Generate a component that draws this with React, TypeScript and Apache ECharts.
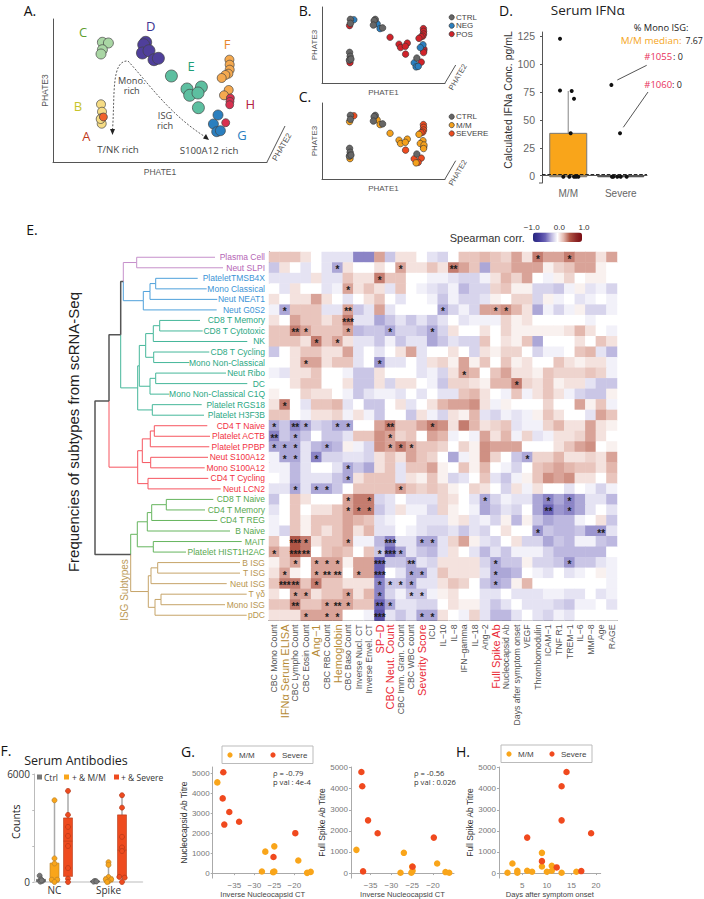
import React, { useEffect, useRef } from "react";
import * as echarts from "echarts";

// ---------- Panel A/B/C: PHATE embedding ----------
const clusterOrder = ["C", "D", "E", "F", "H", "G", "B", "A"];
const phateCluster = ["C","C","C","C","D","D","D","D","D","D","E","E","E","E","E","E","F","F","F","F","F","F","F","F","H","H","H","H","G","G","G","G","B","B","B","B","B","A"];
const phate1 = [49.4,55.4,49.4,48,92.7,90.7,89.4,96,101,105.4,118.4,134,148.4,136.7,145,145.4,176.4,176.7,176.7,175.4,172.4,168.7,175.7,171,177.4,177,176.7,172.7,165,160.4,163.7,167.4,48,49,48.7,48.7,47.7,50.4];
const phate3 = [119.7,119,112.3,108,119.7,117.3,109,111.3,102.3,103.7,86,73,75,66.7,69,54.3,102.3,97.3,92.3,88.3,87,84,72,66.7,64,60.7,57.3,39.3,47,38,30.3,31.3,57.7,50.3,44,38.3,43,45];
const statusB = ["CTRL","NEG","CTRL","POS","CTRL","CTRL","CTRL","NEG","NEG","CTRL","POS","POS","POS","POS","POS","POS","POS","POS","POS","POS","POS","POS","NEG","NEG","POS","POS","POS","POS","CTRL","NEG","NEG","NEG","CTRL","CTRL","CTRL","POS","CTRL","CTRL"];
const statusC = ["CTRL","SEVERE","CTRL","M/M","CTRL","CTRL","CTRL","M/M","M/M","CTRL","M/M","M/M","M/M","M/M","M/M","SEVERE","SEVERE","SEVERE","SEVERE","SEVERE","SEVERE","M/M","M/M","M/M","M/M","SEVERE","M/M","SEVERE","CTRL","SEVERE","M/M","SEVERE","CTRL","CTRL","CTRL","M/M","CTRL","CTRL"];

// ---------- Panel D ----------
const ifnCategories = ["M/M", "Severe"];
const ifnBoxes = [[-1, -1, 0, 38, 76], [-1, -1, -0.8, -0.5, 0]];
const ifnJitter = [0.343,0.343,0.565,0.61,0.546,0.406,0.521,0.61,0.648,0.692,1.321,1.486,1.333,1.358,1.434,1.499,1.613];
const ifnValues = [123,76.5,76,69,38,-1,-1,-1,-1,-1,81.5,38,-1,-1,-1,-1,-1];

// ---------- Panel E ----------
const rowLabels = ["Plasma Cell","Neut SLPI","PlateletTMSB4X","Mono Classical","Neut NEAT1","Neut G0S2","CD8 T Memory","CD8 T Cytotoxic","NK","CD8 T Cycling","Mono Non-Classical","Neut Ribo","DC","Mono Non-Classical C1Q","Platelet RGS18","Platelet H3F3B","CD4 T Naive","Platelet ACTB","Platelet PPBP","Neut S100A12","Mono S100A12","CD4 T Cycling","Neut LCN2","CD8 T Naive","CD4 T Memory","CD4 T REG","B Naive","MAIT","Platelet HIST1H2AC","B ISG","T ISG","Neut ISG","T γδ","Mono ISG","pDC"];
const rowGroups = [0,0,1,1,1,1,2,2,2,2,2,2,2,2,2,2,3,3,3,3,3,3,3,4,4,4,4,4,4,5,5,5,5,5,5];
const colLabels = ["CBC Mono Count","IFNα Serum ELISA","CBC Lympho Count","CBC Eosin Count","Ang−1","CBC RBC Count","Hemoglobin","CBC Baso Count","Inverse Nucl. CT","Inverse Envel. CT","SP−D","CBC Neut. Count","CBC Imm. Gran. Count","CBC WBC count","Severity Score","ICU","IL−10","IL−8","IFN−gamma","IL−18","Ang−2","Full Spike Ab","Nucleocapsid Ab","Days after symptom onset","VEGF","Thrombomodulin","ICAM−1","TNF R1","TREM−1","IL−6","MMP−8","Age","RAGE"];
const goldCols = ["IFNα Serum ELISA", "Ang−1", "Hemoglobin"];
const redCols = ["SP−D", "CBC Neut. Count", "Severity Score", "Full Spike Ab"];
// Spearman correlation, in tenths
const corr = [
[2,2,2,1,0,-1,-1,-1,-4,-4,3,-2,1,1,0,-1,-1.5,0,2,2,2.5,2,1.5,3,1,4,3,3,4,3,3,1,3],
[-2,1,0,-1,0,-1,-3,1,0,0,1,0,3,1,1,2,1,4,3,2,-3,2,2,3,3,3,.5,1.5,2,3,3,.5,0],
[-1,-1,-1,-1,1,-1,-1,2,1,1,4,2,2,0,0,-.5,-.5,-1,-1.5,-1.5,-.5,1,2.5,1.5,3,0,-.5,.5,1.5,0,.5,.5,0],
[0,-1,1,0,0,-1,-.5,3,1,2,1,-1,2,0,-.5,-1,-1.5,-.5,-2.5,-1.5,-1.5,1.5,2,.5,.5,-1.5,-1.5,-2,-.5,.5,-1,-.5,-1.5],
[1,0,1,1,3,1,0,-1,0,1,2,0,-1,0,0,-.5,-2,-.5,-1.5,-1.5,-1,.5,0,1.5,1.5,-1.5,.5,-.5,0,-1,-.5,0,-.5],
[-.5,-3,2,2,2,-1,-1,3,-2,-1,3,-1,0,0,0,0,-3,-1.5,-.5,-1.5,3,3,3.5,2.5,1,-3,-.5,-1.5,-.5,.5,-1.5,-1.5,-.5],
[1,0,3,2,2,1,2,4,-1,-1,-3,-2,-1,-2,-1,-2,-1,0,-1,-.5,-.5,-.5,1.5,.5,1,0,0,0,0,0,-.5,0,0],
[2,2,4,3,2,2,2,3,-2.5,-2,-2,-3,-1.5,-1.5,-2,-3,-1.5,1,0,0,1,0,1.5,.5,.5,.5,.5,.5,1,2.5,1,0,-.5],
[2,2,2,1,4,2,3,1,-1,-1,-2,-.5,-2,-1,-1,-3,-2,-1,-1.5,-1.5,2,0,1,.5,2,-3,0,0,0,1,0,2,1],
[-2,0,1,2,2,1,1,3,-1,0,-1,0,1,3,-1,0,0,1,0,-1.5,1,.5,1.5,1.5,0,-1.5,-.5,-.5,0,2,2.5,-1,-2.5],
[0,0,1,3,3,1,2,2,-1,0,-3.5,-1,-1,0,-1,1,1.5,.5,3,.5,2,0,2,.5,1,0,0,2,1,.5,1,1,-.5],
[-.5,-1,1,1,2,0,0,-.5,-2,-2,1,0,0,0,-1,-.5,-1.5,1,3,2.5,0,2,3,1,1,.5,2,1.5,1.5,1.5,2,1.5,-.5],
[0,0,1,2,2,0,0,1,-2,-2,1,-1.5,1,1,0,-.5,-2,1.5,1.5,1,.5,2.5,2.5,4,1.5,1,2,.5,1,1,-1,-2,-2],
[.5,0,0,1.5,1,1,0,-.5,-2,-1,-.5,-.5,-1,0,-1,0,-1,-1,2,2.5,1,0,-.5,2,-.5,1,2,1,-.5,-1.5,-2,-2,.5],
[1,4,0,-1,2,2,2.5,-1,0,-2,-2,0,1,-1,0,1,2.5,3,3,3.5,1,-.5,.5,0,0,0,1.5,0,0,3,.5,2,-.5],
[2,2,0,-.5,1,1,1.5,-.5,1,-.5,-2,0,0,-2,1,-.5,-1.5,1,.5,2.5,-1,-1.5,-.5,-1,-.5,.5,2,1,0,0,-1,3,2],
[-3,-2,-4,-3,-1.5,-2,-3,-3,0,0,3,4,2,2,3,4,3.5,1,4,2.5,1,1.5,2,-1,-.5,-.5,1.5,2.5,1,1,3,1,.5],
[-4,-2,-3,-2,0,-2,-2,-1,2,2,3.5,3,1.5,2,0,3,2.5,-.5,0,-.5,3,1,2.5,-.5,1.5,-1,-.5,1,1,1.5,3,1,0],
[-3,-3,-3,-1,-2.5,-3,-2.5,.5,-.5,-1.5,3.5,3,4,3,2,2,1.5,0,1.5,.5,3.5,3,3,3,0,0,0,1,2,3,3.5,0,.5],
[-.5,-3,-3,-1,-4,-1.5,-1.5,-1,-1,-1.5,1,2,1,3,2,1.5,0,-3,-.5,.5,3.5,1.5,0,-2,-3,1.5,1.5,2.5,1,1,1.5,1,3],
[-.5,-.5,-2.5,-1,0,0,-1,-3,-2,-3,1,2,-1,2,2,3,.5,0,2,.5,2.5,0,-.5,-1.5,0,2,2.5,3,2.5,2,2,1,2.5],
[0,-.5,-2.5,-1,-1,-1,-2,-3,1,2,2,2,-1,1,.5,2,.5,-1.5,-1,0,2,-1,-2,-.5,.5,2,3.5,3,3.5,1,1,0,2],
[-1,-1,-3,-1,-3,-3,-2,0,2,2,2,2,3,2,1.5,2,1.5,.5,0,1.5,1,0,-1.5,1,-.5,1,0,0,-1,0,-.5,-1.5,-.5],
[-2,0,2,1,0,0,0,3,4,4,-1.5,-1,0,-1,-1,-1,1.5,1,0,-1,-3,-1.5,-.5,-1,-1,-3,-4,-3,-4,-3,-1,-1,-2.5],
[-1,0,2,0,1,1,2,3,4,4,-2,-1,1,-.5,-.5,-1.5,1.5,.5,0,-.5,-3,-2,-1,-1.5,0,-3,-5,-3.5,-4,-3,-1,0,-1],
[-.5,0,2,.5,2,2,2,3,2.5,2,-1,-.5,0,0,-1,-1,-1,.5,1,-1,-.5,-1.5,.5,-2.5,.5,-2,-3,-2.5,-2.5,-.5,0,1,-2],
[-.5,-1.5,2,.5,2,1,2,3,1,2.5,-1,-1,0,-.5,-1,-1.5,-1.5,-1,-2,-1,-1.5,0,1,0,0,-3.5,-2,-2.5,-2.5,-2,-3.5,-3.5,-1],
[2,0,5,4,1,2,2,3,-.5,-.5,-2.5,-4,-1,-1,-3,-3,-1,1.5,3,.5,-1,-1.5,0,1,-1.5,-1.5,-3,-2,-2.5,-.5,-.5,-2,-2.5],
[3,2,5,4,0,2,2.5,2,0,2,-2,-5,-3,-1,-2,-2.5,-1,1,0,-1,-2.5,-1,-2,-.5,-.5,-.5,-1.5,-2.5,-2.5,-2.5,-2.5,-2.5,0],
[.5,2,3,0,3,3,3,.5,3,3,-5,-2,-2,-3,-1,-1.5,1,1,1,1,-1.5,-3,-2,-2,.5,-1.5,-1.5,-2,-3.5,-2,-2,-1,-.5],
[1,3,.5,0,3,3,3,0,3,3,-5,0,-1,-3,-3,-1,2,1,1,1,-1,-3,-3,-2.5,0,-.5,-1,0,-1,-.5,0,.5,-.5],
[2,4,4,2,4,2,2,1,1,1,-4,-2,-2,-3,-1,-1,1,2,1.5,0,-2,-3,-2.5,.5,2.5,0,0,0,0,0,0,0,-.5],
[1,0,3,3,1,2,2,3,1,2.5,-4,-1.5,-.5,-2,-2,-.5,.5,1,0,0,-1,-1,0,-1,-1,-1,-.5,-.5,-1,-1,0,-1,-.5],
[2,2,4,2,2,3,3,3,2,2,-5,-3,-1,-1,-1.5,-1.5,0,1,.5,.5,-1,-2,-1,0,-1,-1,-1,-1.5,-2,-.5,-.5,0,-1],
[1,1,1,3,3,3,3,0,0,-.5,-6,-1,-2,-1,-3,-3,1,0,-.5,1.5,-1,-2.5,-2.5,-1,0,-1,-1.5,-.5,-1,0,0,0,0],
];
// significance: [row, col, number of stars], 1-based
const stars = [[1,26,1],[1,29,1],[2,7,1],[2,13,1],[2,18,2],[3,11,1],[4,8,1],[6,2,1],[6,8,2],[6,17,1],[6,22,1],[6,23,1],[7,8,3],[8,3,2],[8,4,1],[8,8,1],[8,12,1],[8,16,1],[9,5,1],[9,7,1],[11,4,1],[11,11,1],[12,19,1],[13,24,1],[15,2,1],[17,1,1],[17,3,2],[17,4,1],[17,7,1],[17,8,1],[17,12,2],[17,16,1],[18,1,2],[18,3,1],[18,12,1],[19,1,1],[19,2,1],[19,3,1],[19,6,1],[19,12,1],[19,13,1],[19,14,1],[20,2,1],[20,3,1],[20,5,1],[20,25,1],[21,8,1],[22,8,1],[23,3,1],[23,5,1],[23,6,1],[23,13,1],[24,8,1],[24,10,1],[24,21,1],[24,27,1],[24,29,1],[25,8,1],[25,9,1],[25,10,1],[25,27,2],[25,29,1],[27,26,1],[27,32,2],[28,3,3],[28,4,1],[28,8,1],[28,12,3],[28,15,1],[28,16,1],[29,1,1],[29,3,3],[29,4,2],[29,11,1],[29,12,3],[29,13,1],[30,3,1],[30,5,1],[30,6,1],[30,7,1],[30,11,3],[30,14,2],[30,22,1],[30,29,1],[31,2,1],[31,5,1],[31,6,2],[31,7,2],[31,9,1],[31,11,3],[31,14,1],[31,15,1],[31,22,1],[32,2,3],[32,3,2],[32,5,1],[32,11,1],[32,12,1],[32,13,1],[32,14,1],[32,22,1],[33,3,1],[33,4,1],[33,8,1],[33,11,1],[33,14,1],[33,15,1],[34,3,2],[34,6,1],[34,7,2],[34,8,1],[34,11,2],[34,12,1],[35,4,1],[35,6,1],[35,7,1],[35,11,3],[35,15,1],[35,16,1]];
// dendrogram: leaf reach per row, and merges [height, colourTop, colourBottom, childA, childB, stemRow?]
const leafReach = [215,223,197.7,206.7,217.3,216.7,200,202.7,247.3,209.3,189.3,226,247.3,169.3,201.7,204,207.3,210,209.3,208,204.7,208.3,220.7,213.3,205,217.3,230,241.7,186,240,240,226.7,246.7,225,246.7];
const Pu = 0, Bl = 1, Te = 2, Re = 3, Gr = 4, Go = 5, Bk = 6;
const dendroColors = ["#C690CB", "#4FA1DB", "#45B79A", "#F6555F", "#66B55E", "#C6A469", "#555555"];
const dendrogram: any = [95, Bk, Bk,
  [109, Bk, Re,
    [120.7, Bk, Te,
      [123.3, Pu, Bl,
        [136.7, Pu, Pu, 0, 1],
        [143.3, Bl, Bl, [150, Bl, Bl, [155.7, Bl, Bl, 2, 3], 4], 5]],
      [137.7, Te, Te,
        [139.3, Te, Te,
          [145.7, Te, Te, [153.3, Te, Te, [159.7, Te, Te, 6, 7], 8], [153.7, Te, Te, 9, 10]],
          [150, Te, Te, [155.7, Te, Te, 11, 12], 13]],
        [152.3, Te, Te, 14, 15]]],
    [137.7, Re, Re,
      [142.3, Re, Re, [150.3, Re, Re, [154.3, Re, Re, 16, 17], 18], [150.7, Re, Re, 19, 20]],
      [148, Re, Re, 21, 22]]],
  [130.7, Gr, Go,
    [137.3, Gr, Gr,
      [147.3, Gr, Gr, [151.7, Gr, Gr, [166.3, Gr, Gr, 23, 24], 25], 26],
      [153.3, Gr, Gr, 27, 28]],
    [148.3, Go, Go,
      [151, Go, Go, [157.7, Go, Go, 29, 30], 31],
      [155, Go, Go, [161, Go, Go, 32, 33], 34]],
    28.23]];

// ---------- Panel F ----------
const abCategories = ["Ctrl NC","NC","Severe NC","gap","Ctrl Spike","Spike","Severe Spike","end"];
const abGroup = ["Ctrl","M/M","Severe","none","Ctrl","M/M","Severe"];
const abBoxes = [[0,20,60,150,350],[0,0,130,1050,4540],[0,310,2270,3560,5060],[0,0,0,0,0],[0,0,30,60,100],[0,0,130,280,1100],[0,310,1770,3730,4820]];
const abPointX = [0.4,0.5,0.6,0.45,0.55, 1.5,1.5,1.5,1.3,1.7,1.5, 2.5,2.5,2.5,2.5,2.5,2.5,2.5,2.5, 4.5,4.4,4.6, 5.5,5.5,5.5,5.3,5.7,5.5,5.4, 6.5,6.5,6.5,6.5,6.5,6.3,6.7,6.5];
const abPointY = [350,150,60,20,90, 4540,1310,1030,130,130,0, 5060,3730,3060,2560,2000,775,185,0, 60,20,30, 1100,950,280,150,150,30,0, 4820,4130,2510,1920,1720,280,240,0];
const abPointGroup = ["Ctrl","Ctrl","Ctrl","Ctrl","Ctrl","M/M","M/M","M/M","M/M","M/M","M/M","Severe","Severe","Severe","Severe","Severe","Severe","Severe","Severe","Ctrl","Ctrl","Ctrl","M/M","M/M","M/M","M/M","M/M","M/M","M/M","Severe","Severe","Severe","Severe","Severe","Severe","Severe","Severe"];

// ---------- Panels G, H ----------
const g1SevereX = [-37.75,-37.9,-36.25,-37.5,-33.8,-19.75,-25.2];
const g1SevereY = [5050,3740,3060,2430,2570,2000,810];
const g1MildX = [-39.25,-25,-27.25,-19,-28.1,-25,-25.3,-16.8,-15.9];
const g1MildY = [4540,1340,1075,630,80,80,50,15,65];
const g2SevereX = [-37.2,-37,-35.6,-33.3,-19.8,-24.9,-36.8];
const g2SevereY = [4795,4120,2500,1887,1682,300,80];
const g2MildX = [-38.4,-27,-19,-27.8,-24.9,-25.2,-17,-16.1,-25];
const g2MildY = [1100,960,456,15,110,15,47,15,310];
const hSevereX = [14,13,13,19,6,9,12,17];
const hSevereY = [4795,4120,2500,1887,1682,566,267,94];
const hMildX = [9,3,9,11,4,4,6,7,10,11,13,16,2];
const hMildY = [959,456,314,346,110,16,110,63,63,110,16,63,16];

const zip = (a: number[], b: number[]) => a.map((v, i) => [v, b[i]]);
const SANS = "Liberation Sans";
const HUM = "Open Sans";

function TX(text: string, x: number, y: number, size: number, fill: string, o: any = {}) {
  return {
    type: "text", x, y, rotation: o.rotation || 0, silent: true,
    style: { text, fontSize: size, fontFamily: o.font || SANS, fill, textAlign: o.align || "center", textVerticalAlign: "middle", ...(o.lineHeight ? { lineHeight: o.lineHeight } : {}) },
  };
}
const LN = (x1: number, y1: number, x2: number, y2: number, stroke = "#555", lineWidth = 1, extra: any = {}) => ({
  type: "line", silent: true, shape: { x1, y1, x2, y2 }, style: { stroke, lineWidth, ...extra },
});
const DOT = (cx: number, cy: number, r: number, fill: string, stroke = "none") => ({
  type: "circle", silent: true, shape: { cx, cy, r }, style: { fill, stroke, lineWidth: 0.7 },
});

// Whisker without caps, box and median line, placed through the axes' scales.
function boxRenderer(opts: (i: number) => any) {
  return (_p: any, api: any) => {
    const i = api.value(0);
    const o = opts(i);
    if (!o) return null;
    const x = api.coord([i, 0])[0];
    const [yMin, yQ1, yMed, yQ3, yMax] = [1, 2, 3, 4, 5].map((d) => api.coord([i, api.value(d)])[1]);
    const hw = o.width / 2;
    return {
      type: "group",
      children: [
        { type: "line", shape: { x1: x, y1: yMin, x2: x, y2: yMax }, style: { stroke: o.whisker, lineWidth: o.whiskerWidth } },
        { type: "rect", shape: { x: x - hw, y: yQ3, width: o.width, height: Math.max(yQ1 - yQ3, 0.5) }, style: { fill: o.fill, stroke: o.edge, lineWidth: o.edgeWidth } },
        { type: "line", shape: { x1: x - hw, y1: yMed, x2: x + hw, y2: yMed }, style: { stroke: o.edge, lineWidth: o.edgeWidth } },
      ],
    };
  };
}

function buildOption() {
  const clusterColors: any = { A: "#F0622B", B: "#F6DC84", C: "#A9D6A4", D: "#4F3F9B", E: "#5DBFA0", F: "#F5A94F", G: "#2B7FBF", H: "#D8304F" };
  const clusterSizes: any = { A: 8, B: 9, C: 10, D: 12, E: 12, F: 9, G: 10, H: 8 };
  const statusColors: any = { CTRL: "#666666", NEG: "#2B7FBF", POS: "#D1232A", "M/M": "#F5A11C", SEVERE: "#EE4B1F" };
  const bare = { axisTick: { show: false }, axisLabel: { show: false }, splitLine: { show: false } };
  const dark = { axisLine: { lineStyle: { color: "#555", width: 1 } } };

  const grid = [
    { left: 53, top: 19, width: 214, height: 143 },
    { left: 322, top: 7, width: 123, height: 76 },
    { left: 322, top: 103, width: 123, height: 76 },
    { left: 542, top: 32, width: 105, height: 151 },
    { left: 269, top: 252, width: 348, height: 368.5 },
    { left: 60, top: 252, width: 209, height: 368.5 },
    { left: 34.25, top: 774, width: 108, height: 108 },
    { left: 212.7, top: 767, width: 100, height: 112 },
    { left: 351, top: 767, width: 103, height: 112 },
    { left: 499, top: 767, width: 101.7, height: 112 },
  ];

  const phateAxisX = (gi: number, size: number, gap: number) => ({ type: "value", gridIndex: gi, min: 0, max: 214, name: "PHATE1", nameLocation: "middle", nameGap: gap, nameTextStyle: { fontSize: size, color: "#555" }, ...bare, ...dark });
  const phateAxisY = (gi: number, size: number, gap: number) => ({ type: "value", gridIndex: gi, min: 0, max: 143, name: "PHATE3", nameLocation: "middle", nameGap: gap, nameTextStyle: { fontSize: size, color: "#555" }, ...bare, ...dark });

  const tickStyle = { color: "#777", fontSize: 8, margin: 3, formatter: (v: number) => String(v).replace("-", "−") };
  const lightLine = { axisLine: { show: true, lineStyle: { color: "#aaa", width: 1 } }, splitLine: { show: false } };
  const scatterX = (gi: number, min: number, max: number, vals: number[], name: string) => ({
    type: "value", gridIndex: gi, min, max, name, nameLocation: "middle", nameGap: 10,
    nameTextStyle: { fontSize: 7.6, color: "#444" }, ...lightLine,
    axisLabel: { ...tickStyle, customValues: vals }, axisTick: { length: 2, lineStyle: { color: "#aaa" }, customValues: vals },
  });
  const titreTicks = [0, 1000, 2000, 3000, 4000, 5000];
  const scatterY = (gi: number, name: string, gap: number, min: number, max: number) => ({
    type: "value", gridIndex: gi, min, max, name, nameLocation: "middle", nameGap: gap,
    nameTextStyle: { fontSize: 8.5, color: "#333" }, ...lightLine,
    axisLabel: { ...tickStyle, customValues: titreTicks }, axisTick: { length: 2, lineStyle: { color: "#aaa" }, customValues: titreTicks },
  });

  const hidden = { show: false, splitLine: { show: false } };
  const xAxis: any[] = [
    phateAxisX(0, 8.5, 5),
    phateAxisX(1, 8, 5),
    phateAxisX(2, 8, 5),
    { type: "category", gridIndex: 3, data: ifnCategories, axisLine: { lineStyle: { color: "#555" } }, axisTick: { show: false }, axisLabel: { color: "#666", fontSize: 10, margin: 5 } },
    { type: "value", gridIndex: 3, min: 0, max: 2, ...hidden },
    {
      type: "category", gridIndex: 4, data: colLabels,
      axisLine: { lineStyle: { color: "#333", width: 1 } }, axisTick: { length: 2, lineStyle: { color: "#333" }, alignWithLabel: true },
      axisLabel: {
        interval: 0, rotate: 90, margin: 4, fontSize: 8.7, color: "#555",
        formatter: (n: string) => (goldCols.includes(n) ? `{g|${n}}` : redCols.includes(n) ? `{r|${n}}` : n),
        rich: { g: { fontSize: 11, color: "#B58A35" }, r: { fontSize: 11, color: "#EA2A35" } },
      },
      splitLine: { show: false },
    },
    { type: "value", gridIndex: 5, min: 60, max: 269, ...hidden },
    {
      type: "category", gridIndex: 6, data: abCategories,
      axisLine: { lineStyle: { color: "#ddd", width: 2 } }, axisTick: { show: false },
      axisLabel: {
        interval: 0, color: "#333", fontSize: 10, margin: 3, fontFamily: HUM,
        formatter: (n: string) => (n === "NC" || n === "Spike" ? n : ""),
      },
    },
    { type: "value", gridIndex: 6, min: 0, max: 8, ...hidden },
    scatterX(7, -40.4, -15.4, [-35, -30, -25, -20], "Inverse Nucleocapsid CT"),
    scatterX(8, -39.7, -14.95, [-35, -30, -25, -20], "Inverse Nucleocapsid CT"),
    scatterX(9, 0.27, 20.95, [5, 10, 15, 20], "Days after symptom onset"),
  ];
  const ifnTicks = [0, 25, 50, 75, 100, 125];
  const yAxis: any[] = [
    phateAxisY(0, 8.5, 4),
    phateAxisY(1, 8, 4),
    phateAxisY(2, 8, 4),
    {
      type: "value", gridIndex: 3, min: -6.6, max: 129, offset: 3, splitLine: { show: false },
      axisLine: { show: true, lineStyle: { color: "#555" } },
      axisTick: { show: true, length: 2, lineStyle: { color: "#555" }, customValues: ifnTicks },
      axisLabel: { color: "#666", fontSize: 10.5, margin: 4, customValues: ifnTicks },
    },
    {
      type: "category", gridIndex: 4, data: rowLabels, inverse: true,
      axisLine: { lineStyle: { color: "#333", width: 1 } }, axisTick: { length: 2, lineStyle: { color: "#555" }, alignWithLabel: true },
      axisLabel: { interval: 0, fontSize: 8.5, margin: 4, color: (_v: any, i: number) => ["#B565B5", "#3B94D6", "#2BA884", "#F2323F", "#58A84F", "#B8964F"][rowGroups[i]] },
      splitLine: { show: false },
    },
    { type: "value", gridIndex: 5, min: -0.5, max: 34.5, inverse: true, ...hidden },
    {
      type: "value", gridIndex: 6, min: 0, max: 6000, interval: 2000, offset: 2.25, splitLine: { show: false },
      axisLine: { show: true, lineStyle: { color: "#bbb" } }, axisTick: { show: true, length: 2, lineStyle: { color: "#bbb" } },
      axisLabel: { color: "#333", fontSize: 10, margin: 2, fontFamily: HUM, formatter: (v: number) => (v === 0 || v === 6000 ? String(v) : "") },
    },
    scatterY(7, "Nucleocapsid Ab Titre", 22, -248, 5310),
    scatterY(8, "Full Spike Ab Titre", 22, -239, 5031),
    scatterY(9, "Full Spike Ab Titre", 23, -239, 5031),
  ];

  const series: any[] = [];
  // A
  clusterOrder.forEach((c) => {
    const pts = phate1.map((x, i) => [x, phate3[i]]).filter((_, i) => phateCluster[i] === c);
    series.push({ type: "scatter", name: "Cluster " + c, xAxisIndex: 0, yAxisIndex: 0, symbolSize: clusterSizes[c], data: pts, itemStyle: { color: clusterColors[c], borderColor: "#444", borderWidth: 0.7, opacity: 1 } });
  });
  // B, C
  const statusSeries = (ax: number, statuses: string[], order: string[]) => order.forEach((s) => {
    series.push({
      type: "scatter", name: s, xAxisIndex: ax, yAxisIndex: ax, symbolSize: 6.5,
      data: phate1.map((x, i) => [x, phate3[i]]).filter((_, i) => statuses[i] === s),
      itemStyle: { color: statusColors[s], borderColor: "#333", borderWidth: 0.6, opacity: 1 },
    });
  });
  statusSeries(1, statusB, ["POS", "NEG", "CTRL"]);
  statusSeries(2, statusC, ["SEVERE", "M/M", "CTRL"]);
  // D
  const ifnWidths = [37, 46];
  series.push({
    type: "custom", name: "Serum IFNα", xAxisIndex: 3, yAxisIndex: 3, encode: { x: 0, y: [1, 2, 3, 4, 5] },
    data: ifnBoxes.map((b, i) => [i, ...b]),
    renderItem: boxRenderer((i) => ({ width: ifnWidths[i], whisker: "#999", whiskerWidth: 1.2, fill: "#F9A51A", edge: i === 0 ? "#777" : "#555", edgeWidth: 1 })),
    markLine: { silent: true, symbol: "none", label: { show: false }, lineStyle: { color: "#111", type: "dashed", width: 0.9 }, data: [{ yAxis: 1.5 }] },
  });
  series.push({ type: "scatter", name: "IFNα values", xAxisIndex: 4, yAxisIndex: 3, symbolSize: 4, data: zip(ifnJitter, ifnValues), itemStyle: { color: "#111", opacity: 1 } });
  // E heatmap
  const starAt: any = {};
  stars.forEach(([r, c, n]) => { starAt[`${r - 1}_${c - 1}`] = n; });
  const cells: any[] = [];
  corr.forEach((row, r) => row.forEach((v, c) => cells.push({ value: [c, r, v / 10, starAt[`${r}_${c}`] || 0] })));
  const heatIndex = series.length;
  series.push({
    type: "heatmap", name: "Spearman corr.", xAxisIndex: 5, yAxisIndex: 4, data: cells,
    label: { show: true, fontSize: 10, fontWeight: "bold", color: "#1a1a1a", offset: [0, 2], formatter: (p: any) => "*".repeat(p.value[3]) },
    itemStyle: { borderWidth: 0 },
  });
  // dendrogram
  const buckets: any[][] = dendroColors.map(() => []);
  const walk = (n: any): number => {
    if (typeof n === "number") return n;
    const [x, cTop, cBot, a, b, stem] = n;
    const ya = walk(a), yb = walk(b);
    const xa = typeof a === "number" ? leafReach[a] : a[0];
    const xb = typeof b === "number" ? leafReach[b] : b[0];
    const mid = stem === undefined ? (ya + yb) / 2 : stem;
    buckets[cTop].push([xa, ya], [x, ya], [x, mid], "-");
    buckets[cBot].push([xb, yb], [x, yb], [x, mid], "-");
    return mid;
  };
  walk(dendrogram);
  buckets.forEach((data, i) => series.push({
    type: "line", name: "dendrogram " + i, xAxisIndex: 6, yAxisIndex: 5, data, showSymbol: false, connectNulls: false, clip: false,
    lineStyle: { color: dendroColors[i], width: i === Bk ? 1.5 : 1 }, itemStyle: { color: dendroColors[i] },
  }));
  // F
  const abFill: any = { Ctrl: "#777777", "M/M": "#F9A51A", Severe: "#EE4B1F" };
  const abEdge: any = { Ctrl: "#555555", "M/M": "#B9812A", Severe: "#B33A1A" };
  series.push({
    type: "custom", name: "Serum Antibodies", xAxisIndex: 7, yAxisIndex: 6, encode: { x: 0, y: [1, 2, 3, 4, 5] },
    data: abBoxes.map((b, i) => [i, ...b]),
    renderItem: boxRenderer((i) => {
      const g = abGroup[i];
      if (g === "none") return null;
      return { width: 9, whisker: "#AAA", whiskerWidth: 1.5, fill: abFill[g], edge: abEdge[g], edgeWidth: 0.6 };
    }),
  });
  ["Ctrl", "M/M", "Severe"].forEach((g) => series.push({
    type: "scatter", name: "F " + g, xAxisIndex: 8, yAxisIndex: 6, symbolSize: 5,
    data: abPointX.map((x, i) => [x, abPointY[i]]).filter((_, i) => abPointGroup[i] === g),
    itemStyle: { color: abFill[g], borderColor: abEdge[g], borderWidth: 0.7, opacity: 1 },
  }));
  // G, H
  const titreScatter = (ax: number, ay: number, mildX: number[], mildY: number[], sevX: number[], sevY: number[]) => {
    series.push({ type: "scatter", name: "M/M", xAxisIndex: ax, yAxisIndex: ay, symbolSize: 6.5, data: zip(mildX, mildY), itemStyle: { color: "#F9A51A", opacity: 1 } });
    series.push({ type: "scatter", name: "Severe", xAxisIndex: ax, yAxisIndex: ay, symbolSize: 6.5, data: zip(sevX, sevY), itemStyle: { color: "#F0491E", opacity: 1 } });
  };
  titreScatter(9, 7, g1MildX, g1MildY, g1SevereX, g1SevereY);
  titreScatter(10, 8, g2MildX, g2MildY, g2SevereX, g2SevereY);
  titreScatter(11, 9, hMildX, hMildY, hSevereX, hSevereY);

  const legendBox = (x: number, y: number) => [
    { type: "rect", silent: true, shape: { x, y, width: 91, height: 17.5 }, style: { fill: "#fff", stroke: "#bbb", lineWidth: 1 } },
    DOT(x + 8, y + 9, 2.6, "#F9A51A"),
    TX("M/M", x + 17, y + 9, 8, "#444", { align: "left" }),
    DOT(x + 51, y + 9, 2.6, "#F0491E"),
    TX("Severe", x + 60, y + 9, 8, "#444", { align: "left" }),
  ];
  const statusLegend = (y0: number, items: string[]) => items.flatMap((s, i) => [
    DOT(451.7, y0 + i * 8.4, 2.6, statusColors[s], "#333"),
    TX(s, 456, y0 + i * 8.4, 8, "#444", { align: "left" }),
  ]);
  const arrow = (x: number, y: number, pts: number[][]) => ({ type: "polygon", silent: true, shape: { points: pts.map(([a, b]) => [x + a, y + b]) }, style: { fill: "#222" } });
  const curve = (x1: number, y1: number, cpx1: number, cpy1: number, cpx2: number, cpy2: number, x2: number, y2: number) => ({
    type: "bezierCurve", silent: true, shape: { x1, y1, cpx1, cpy1, cpx2, cpy2, x2, y2 },
    style: { stroke: "#333", lineWidth: 0.8, lineDash: [2, 1.6], fill: "none" },
  });

  const graphic = [
    // panel letters
    TX("A.", 30, 10, 14, "#111", { font: HUM }),
    TX("B.", 305, 10, 14, "#111", { font: HUM }),
    TX("C.", 305, 96, 14, "#111", { font: HUM }),
    TX("D.", 506, 10, 14, "#111", { font: HUM }),
    TX("E.", 32, 229, 14, "#111", { font: HUM }),
    TX("F.", 6, 750, 14, "#111", { font: HUM }),
    TX("G.", 188, 751, 14, "#111", { font: HUM }),
    TX("H.", 463, 751, 14, "#111", { font: HUM }),
    // panel A
    LN(267, 162, 285, 126),
    TX("PHATE2", 282, 147, 8, "#555", { rotation: 1.05 }),
    TX("A", 86.3, 135.7, 13, "#C0391B", { font: HUM }),
    TX("B", 78, 105.7, 13, "#C7C42A", { font: HUM }),
    TX("C", 83, 32, 13, "#5F9E2F", { font: HUM }),
    TX("D", 150.7, 25.7, 13, "#3B3490", { font: HUM }),
    TX("E", 191, 66, 13, "#1E9E78", { font: HUM }),
    TX("F", 227, 44, 13, "#E8862B", { font: HUM }),
    TX("G", 242, 135, 13, "#2B7FBF", { font: HUM }),
    TX("H", 250.3, 104.3, 13, "#B2213F", { font: HUM }),
    curve(112.5, 130, 115, 95, 111, 60, 128, 61),
    curve(128, 61, 150, 85, 170, 115, 207, 138),
    arrow(112.5, 135, [[0, 0], [-2.5, -6], [2.5, -6]]),
    arrow(209, 140, [[0, 0], [-6, -1.5], [-3, -6]]),
    TX("Mono.\nrich", 131.7, 85.5, 9.2, "#444", { font: HUM, lineHeight: 10.8 }),
    TX("ISG\nrich", 165, 120.5, 9.2, "#444", { font: HUM, lineHeight: 10.8 }),
    TX("T/NK rich", 118, 149, 9.7, "#444", { font: HUM }),
    TX("S100A12 rich", 209, 150, 9.7, "#444", { font: HUM }),
    // panels B, C
    LN(445, 83, 455.7, 65),
    TX("PHATE2", 457.7, 77, 7.5, "#555", { rotation: 1.05 }),
    LN(445, 179, 455.7, 160.7),
    TX("PHATE2", 457.7, 172.7, 7.5, "#555", { rotation: 1.05 }),
    ...statusLegend(17.3, ["CTRL", "NEG", "POS"]),
    ...statusLegend(116.7, ["CTRL", "M/M", "SEVERE"]),
    // panel D
    LN(539, 183, 542, 183),
    TX("Serum IFNα", 587.7, 9.5, 13.5, "#222", { font: HUM }),
    TX("Calculated IFNa Conc. pg/mL", 508, 100, 10.5, "#333", { rotation: Math.PI / 2 }),
    TX("% Mono ISG:", 661, 27, 9.3, "#222", { font: HUM }),
    TX("M/M median:", 620.7, 40.7, 9.8, "#F5A623", { font: HUM, align: "left" }),
    TX("7.67", 685.5, 40.7, 8.8, "#222", { font: HUM, align: "left" }),
    TX("#1055", 644.3, 56.7, 9.5, "#E8315B", { font: HUM, align: "left" }),
    TX(": 0", 673, 56.7, 9, "#222", { font: HUM, align: "left" }),
    TX("#1060", 644.3, 84, 9.5, "#E8315B", { font: HUM, align: "left" }),
    TX(": 0", 672, 84, 9, "#222", { font: HUM, align: "left" }),
    LN(617.3, 80, 646.7, 65.3),
    LN(623.3, 127.3, 648, 92),
    // panel E
    TX("Frequencies of subtypes from scRNA-Seq", 73, 432, 15, "#222", { rotation: Math.PI / 2 }),
    TX("ISG Subtypes", 124, 590, 10, "#BC9A57", { rotation: Math.PI / 2 }),
    TX("Spearman corr.", 487.3, 238.3, 11, "#333"),
    TX("−1.0", 531.7, 227.5, 8, "#333"),
    TX("0.0", 559.3, 227.5, 8, "#333"),
    TX("1.0", 584, 227.5, 8, "#333"),
    // panel F
    TX("Serum Antibodies", 76, 760, 12.5, "#222", { font: HUM }),
    TX("Counts", 15.7, 821.7, 10.5, "#222", { font: HUM, rotation: Math.PI / 2 }),
    { type: "rect", silent: true, shape: { x: 37, y: 774.5, width: 5, height: 5 }, style: { fill: "#777" } },
    TX("Ctrl", 44, 777, 8.5, "#333", { font: HUM, align: "left" }),
    { type: "rect", silent: true, shape: { x: 64, y: 774.5, width: 5, height: 5 }, style: { fill: "#F9A51A" } },
    TX("+ & M/M", 72, 777, 8.5, "#333", { font: HUM, align: "left" }),
    { type: "rect", silent: true, shape: { x: 114, y: 774.5, width: 5, height: 5 }, style: { fill: "#EE4B1F" } },
    TX("+ & Severe", 121, 777, 8.5, "#333", { font: HUM, align: "left" }),
    // panels G, H
    ...legendBox(222, 746),
    ...legendBox(501, 745),
    TX("ρ = -0.79\np val : 4e-4", 273, 777.5, 7.6, "#333", { font: HUM, align: "left", lineHeight: 9 }),
    TX("ρ = -0.56\np val : 0.026", 414, 777.5, 7.6, "#333", { font: HUM, align: "left", lineHeight: 9 }),
  ];

  return {
    animation: false,
    backgroundColor: "#fff",
    textStyle: { fontFamily: SANS },
    grid: grid.map((g) => ({ ...g, containLabel: false })),
    xAxis, yAxis, series, graphic,
    visualMap: {
      type: "continuous", seriesIndex: heatIndex, dimension: 2, min: -1, max: 1, show: true,
      orient: "horizontal", left: 518, top: 217.5, itemWidth: 9.5, itemHeight: 49, text: null, showLabel: false, calculable: false,
      inRange: { color: ["#26267F", "#423A9A", "#6A62B5", "#BDB8E0", "#FFFFFF", "#E3B7AD", "#B05545", "#8F2A2A", "#7A0C12"] },
      textStyle: { fontSize: 1, color: "transparent" },
    },
  };
}

export default function App() {
  const ref = useRef<HTMLDivElement>(null);
  useEffect(() => {
    const chart = echarts.init(ref.current!, null, { renderer: "svg" });
    chart.setOption(buildOption() as any);
    return () => chart.dispose();
  }, []);
  return <div ref={ref} style={{ position: "absolute", left: 0, top: 0, width: 704, height: 899 }} />;
}
